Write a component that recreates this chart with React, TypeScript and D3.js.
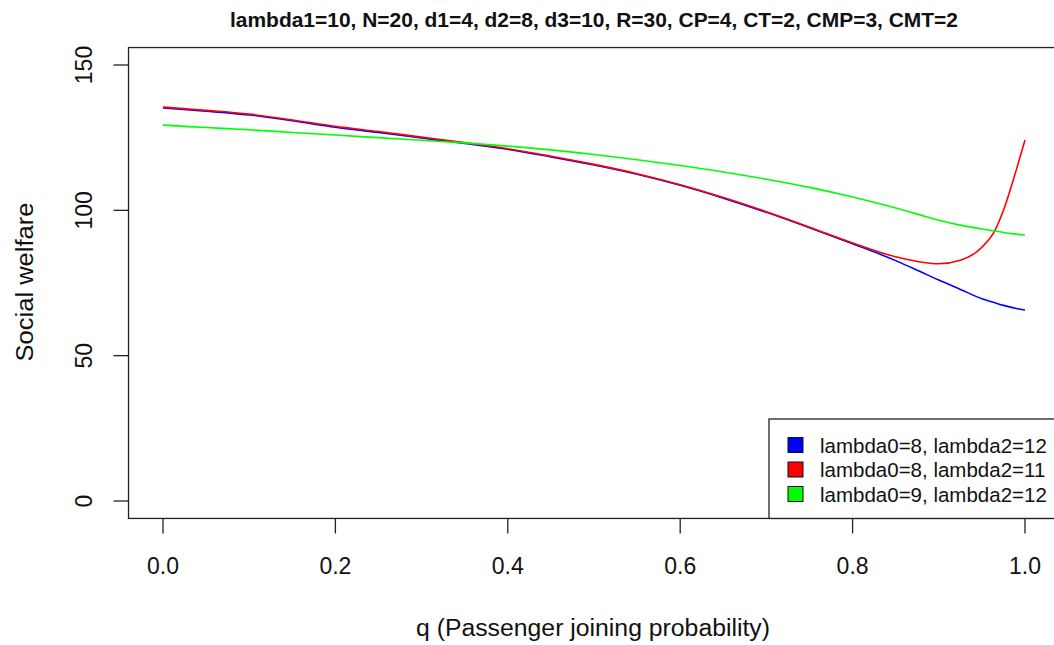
import React from "react";
import * as d3 from "d3";

const qValues = [0, 0.05, 0.1, 0.15, 0.2, 0.25, 0.3, 0.35, 0.4, 0.45, 0.5, 0.55, 0.6, 0.65, 0.7, 0.75, 0.8, 0.85, 0.875, 0.9, 0.925, 0.95, 0.965, 0.975, 0.99, 1.0];
const blueValues = [135.2, 134.1, 132.8, 130.8, 128.6, 126.8, 124.9, 123.0, 121.0, 118.4, 115.6, 112.4, 108.6, 104.2, 99.3, 94.0, 88.5, 82.7, 79.4, 76.0, 72.8, 69.6, 68.2, 67.3, 66.2, 65.7];
const redValues = [135.5, 134.4, 133.1, 131.1, 128.9, 127.1, 125.2, 123.3, 121.2, 118.6, 115.8, 112.6, 108.8, 104.4, 99.5, 94.2, 88.8, 84.0, 82.4, 81.6, 82.8, 87.3, 93.0, 100.0, 114.0, 124.2];
const greenValues = [129.3, 128.5, 127.7, 126.8, 125.9, 125.0, 124.1, 123.2, 122.1, 120.8, 119.2, 117.4, 115.4, 113.2, 110.7, 107.9, 104.6, 100.8, 98.7, 96.6, 94.9, 93.6, 92.9, 92.4, 91.8, 91.5];

const seriesNames = ["lambda0=8, lambda2=12", "lambda0=8, lambda2=11", "lambda0=9, lambda2=12"];
const seriesColors = ["#0000ff", "#ff0000", "#00ff00"];
const xTicks = [0, 0.2, 0.4, 0.6, 0.8, 1.0];
const yTicks = [0, 50, 100, 150];
const titleText = "lambda1=10, N=20, d1=4, d2=8, d3=10, R=30, CP=4, CT=2, CMP=3, CMT=2";
const xLabel = "q (Passenger joining probability)";
const yLabel = "Social welfare";

export default function App() {
  const W = 1054, H = 645;
  const x = d3.scaleLinear().domain([0, 1]).range([163, 1025]);
  const y = d3.scaleLinear().domain([0, 150]).range([501, 65]);
  const [x0, x1] = [x(-0.04), x(1.04)];
  const [yB, yT] = [y(-6), y(156)];
  const series = [blueValues, redValues, greenValues];
  const line = d3.line<number>()
    .x((_, i) => x(qValues[i]))
    .y((d) => y(d))
    .curve(d3.curveMonotoneX);
  const font = "'Liberation Sans', Arial, sans-serif";
  const axisColor = "#222";
  return (
    <svg width={W} height={H} style={{ position: "absolute", left: 0, top: 0, background: "#fff" }} fontFamily={font}>
      <rect x={0} y={0} width={W} height={H} fill="#fff" />
      {series.map((vals, k) => (
        <path key={k} d={line(vals) || ""} fill="none" stroke={seriesColors[k]} strokeWidth={1.6} />
      ))}
      <rect x={x0} y={yT} width={x1 - x0} height={yB - yT} fill="none" stroke={axisColor} strokeWidth={1.3} />
      {xTicks.map((t) => (
        <g key={t}>
          <line x1={x(t)} x2={x(t)} y1={yB} y2={yB + 15} stroke={axisColor} strokeWidth={1.3} />
          <text x={x(t)} y={574} fontSize={23} textAnchor="middle" fill="#111">{t.toFixed(1)}</text>
        </g>
      ))}
      {yTicks.map((t) => (
        <g key={t}>
          <line x1={x0 - 15} x2={x0} y1={y(t)} y2={y(t)} stroke={axisColor} strokeWidth={1.3} />
          <text transform={`translate(92,${y(t)}) rotate(-90)`} fontSize={23} textAnchor="middle" fill="#111">{t}</text>
        </g>
      ))}
      <text x={(x0 + x1) / 2} y={27} fontSize={20} fontWeight="bold" textAnchor="middle" textLength={728} lengthAdjust="spacingAndGlyphs" fontFamily="'Liberation Sans Narrow', 'Liberation Sans', Arial, sans-serif" fill="#111">{titleText}</text>
      <text x={593} y={636} fontSize={23} textAnchor="middle" textLength={354} lengthAdjust="spacingAndGlyphs" fill="#111">{xLabel}</text>
      <text transform={`translate(33,282) rotate(-90)`} fontSize={23} textAnchor="middle" textLength={159} lengthAdjust="spacingAndGlyphs" fill="#111">{yLabel}</text>
      <rect x={769} y={419} width={400} height={yB - 419} fill="#fff" stroke={axisColor} strokeWidth={1.3} />
      {seriesNames.map((name, k) => {
        const cy = 445 + k * 24.5;
        return (
          <g key={name}>
            <rect x={788} y={cy - 7.5} width={15} height={15} fill={seriesColors[k]} stroke="#111" strokeWidth={1} />
            <text x={820} y={cy + 7.5} fontSize={20.5} fill="#111">{name}</text>
          </g>
        );
      })}
    </svg>
  );
}
